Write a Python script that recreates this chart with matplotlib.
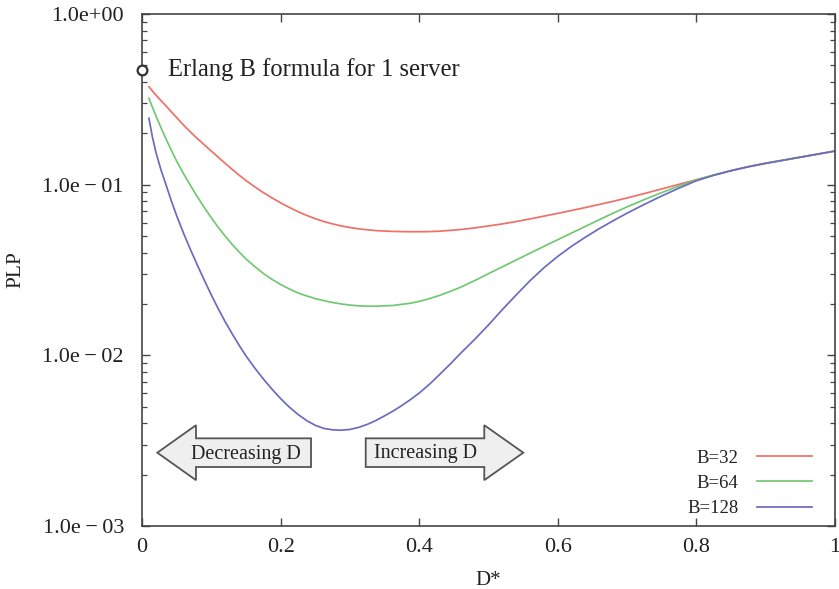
import matplotlib
matplotlib.use("Agg")
import matplotlib.pyplot as plt
from matplotlib.patches import Polygon
from matplotlib.ticker import LogLocator, FixedLocator, NullFormatter

plt.rcParams['font.family'] = ['Liberation Serif', 'DejaVu Serif']

# ---- data ----
d_star = [0.01, 0.015, 0.02, 0.0275, 0.035, 0.0425, 0.05, 0.06, 0.07, 0.08, 0.09, 0.1,
          0.11, 0.12, 0.13, 0.14, 0.15, 0.1625, 0.175, 0.1875, 0.2, 0.2125, 0.225, 0.2375,
          0.25, 0.2625, 0.275, 0.2875, 0.3, 0.3125, 0.325, 0.3375, 0.35, 0.3625, 0.375,
          0.3875, 0.4, 0.415, 0.43, 0.445, 0.46, 0.48, 0.5, 0.52, 0.54, 0.56, 0.58, 0.6,
          0.62, 0.64, 0.66, 0.68, 0.7, 0.725, 0.75, 0.775, 0.8, 0.825, 0.85, 0.875, 0.9,
          0.925, 0.95, 0.975, 1.0]

plp_b32 = [0.3750, 0.3540, 0.3352, 0.3105, 0.2884, 0.2667, 0.2472,
           0.2234, 0.2032, 0.1862, 0.1710, 0.1574,
           0.1449, 0.1334, 0.1230, 0.1138, 0.1057,
           0.0973, 0.0899, 0.0837, 0.0783,
           0.0736, 0.0695, 0.0661, 0.0632,
           0.0608, 0.0589, 0.0573, 0.0561,
           0.0551, 0.0544, 0.0538, 0.0535,
           0.0532, 0.0531, 0.0530, 0.0530,
           0.0531, 0.0534, 0.0540, 0.0546,
           0.0558, 0.0573, 0.0589, 0.0608,
           0.0630, 0.0654, 0.0679, 0.0706,
           0.0735, 0.0766, 0.0799, 0.0836,
           0.0887, 0.0944, 0.1005, 0.1069,
           0.1138, 0.1208, 0.1274, 0.1334,
           0.1390, 0.1449, 0.1510, 0.1574]

plp_b64 = [0.3206, 0.2844, 0.2535, 0.2153, 0.1841, 0.1585, 0.1374,
           0.1159, 0.0989, 0.0847, 0.0733, 0.0640,
           0.0562, 0.0500, 0.0447, 0.0404, 0.0367,
           0.0332, 0.0302, 0.0279, 0.0260,
           0.0245, 0.0232, 0.0223, 0.0215,
           0.0209, 0.0204, 0.0200, 0.0197,
           0.0195, 0.0194, 0.0194, 0.0195,
           0.0196, 0.0199, 0.0202, 0.0207,
           0.0215, 0.0225, 0.0237, 0.0251,
           0.0274, 0.0301, 0.0330, 0.0362,
           0.0397, 0.0435, 0.0476, 0.0521,
           0.0570, 0.0624, 0.0681, 0.0741,
           0.0818, 0.0899, 0.0982, 0.1067,
           0.1138, 0.1208, 0.1274, 0.1334,
           0.1390, 0.1449, 0.1510, 0.1574]

plp_b128 = [0.2449, 0.1905, 0.1552, 0.1216, 0.0989, 0.0800, 0.0658,
            0.0519, 0.0416, 0.0337, 0.0275, 0.0226,
            0.01875, 0.01574, 0.01340, 0.01148, 0.00993,
            0.00845, 0.00728, 0.00634, 0.00558,
            0.00498, 0.00451, 0.00415, 0.00389,
            0.00373, 0.00366, 0.00364, 0.00368,
            0.00378, 0.00394, 0.00415, 0.00442,
            0.00472, 0.00508, 0.00551, 0.00601,
            0.00678, 0.00776, 0.00891, 0.01030,
            0.01239, 0.01507, 0.01854, 0.0226,
            0.0274, 0.0326, 0.0380, 0.0436,
            0.0493, 0.0553, 0.0615, 0.0681,
            0.0767, 0.0859, 0.0955, 0.1054,
            0.1135, 0.1208, 0.1274, 0.1334,
            0.1390, 0.1449, 0.1510, 0.1574]

series_labels = ["B=32", "B=64", "B=128"]
series_colors = ["#ee7068", "#72c872", "#6b6bc0"]

erlang_x = [0.0]
erlang_y = [0.47]
erlang_label = "Erlang B formula for 1 server"

x_ticks = [0, 0.2, 0.4, 0.6, 0.8, 1.0]
x_tick_labels = ["0", "0.2", "0.4", "0.6", "0.8", "1"]
y_ticks = [1e-3, 1e-2, 1e-1, 1e0]
y_tick_labels = ["1.0e\u2009\u2212\u200903", "1.0e\u2009\u2212\u200902",
                 "1.0e\u2009\u2212\u200901", "1.0e+00"]

# ---- figure ----
fig = plt.figure(figsize=(8.39, 5.89), dpi=100)
ax = fig.add_axes([142/839, 1 - 526/589, (835-142)/839, (526-14)/589])

for ys, lab, col in zip([plp_b32, plp_b64, plp_b128], series_labels, series_colors):
    ax.plot(d_star, ys, color=col, lw=1.25, label=lab)

ax.plot(erlang_x, erlang_y, 'o', ms=7, mfc='white', mec='#333333', mew=1.6,
        clip_on=False, zorder=5)
ax.text(0.0375, erlang_y[0], erlang_label, fontsize=17.7, color='#222222',
        va='center', ha='left')

ax.set_yscale('log')
ax.set_xlim(0, 1)
ax.set_ylim(1e-3, 1e0)

ax.xaxis.set_major_locator(FixedLocator(x_ticks))
ax.set_xticklabels(x_tick_labels)
ax.yaxis.set_major_locator(FixedLocator(y_ticks))
ax.set_yticklabels(y_tick_labels)
ax.yaxis.set_minor_locator(LogLocator(base=10, subs=range(2, 10)))
ax.yaxis.set_minor_formatter(NullFormatter())

ax.tick_params(axis='both', which='both', direction='in', top=True, right=True,
               colors='#444444', labelcolor='#222222')
ax.tick_params(axis='both', which='major', length=6, width=1.0, labelsize=16)
ax.tick_params(axis='y', which='minor', length=3.5, width=0.9)
ax.tick_params(axis='x', which='major', pad=9)
ax.tick_params(axis='y', which='major', pad=13)

for s in ax.spines.values():
    s.set_color('#444444')
    s.set_linewidth(1.2)

ax.set_xlabel("D*", fontsize=15, color='#222222', labelpad=9.5)
ax.set_ylabel("PLP", fontsize=15.5, color='#222222', labelpad=12)

# ---- direction arrows (axes-fraction coordinates) ----
def arrow_poly(tip_x, base_x, body_end_x, yc=0.1432, head_half=0.0537, body_half=0.028):
    return [(tip_x, yc), (base_x, yc + head_half), (base_x, yc + body_half),
            (body_end_x, yc + body_half), (body_end_x, yc - body_half),
            (base_x, yc - body_half), (base_x, yc - head_half)]

for pts in (arrow_poly(0.0221, 0.0779, 0.2439), arrow_poly(0.5502, 0.4939, 0.3228)):
    ax.add_patch(Polygon(pts, closed=True, transform=ax.transAxes,
                         facecolor='#efefef', edgecolor='#555555', lw=1.3, zorder=3))

ax.text(0.1505, 0.140, "Decreasing D", transform=ax.transAxes, fontsize=14.5,
        ha='center', va='center', color='#222222', zorder=4)
ax.text(0.409, 0.142, "Increasing D", transform=ax.transAxes, fontsize=14.5,
        ha='center', va='center', color='#222222', zorder=4)

leg = ax.legend(loc='lower right', bbox_to_anchor=(0.967, 0.017), markerfirst=False,
                frameon=False, fontsize=13.5, handlelength=2.93, handletextpad=1.0,
                labelspacing=0.44, borderaxespad=0, borderpad=0)
for t in leg.get_texts():
    t.set_color('#222222')

fig.savefig("out.png", dpi=100)
